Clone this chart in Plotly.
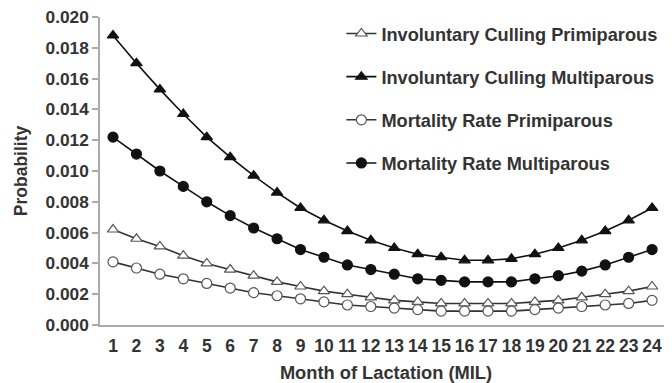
import plotly.graph_objects as go

months = list(range(1, 25))
icp = [0.0062, 0.0056, 0.0051, 0.0045, 0.0040, 0.0036, 0.0032, 0.0028, 0.0025, 0.0022, 0.0020, 0.0018,
       0.0016, 0.0015, 0.0014, 0.0014, 0.0014, 0.0014, 0.0015, 0.0016, 0.0018, 0.0020, 0.0022, 0.0025]
icm = [0.0188, 0.0170, 0.0153, 0.0137, 0.0122, 0.0109, 0.0097, 0.0086, 0.0076, 0.0068, 0.0061, 0.0055,
       0.0050, 0.0046, 0.0044, 0.0042, 0.0042, 0.0043, 0.0046, 0.0050, 0.0055, 0.0061, 0.0068, 0.0076]
mrp = [0.0041, 0.0037, 0.0033, 0.0030, 0.0027, 0.0024, 0.0021, 0.0019, 0.0017, 0.0015, 0.0013, 0.0012,
       0.0011, 0.0010, 0.0009, 0.0009, 0.0009, 0.0009, 0.0010, 0.0011, 0.0012, 0.0013, 0.0014, 0.0016]
mrm = [0.0122, 0.0111, 0.0100, 0.0090, 0.0080, 0.0071, 0.0063, 0.0056, 0.0049, 0.0044, 0.0039, 0.0036,
       0.0033, 0.0030, 0.0029, 0.0028, 0.0028, 0.0028, 0.0030, 0.0032, 0.0035, 0.0039, 0.0044, 0.0049]
y_ticks = [0.000, 0.002, 0.004, 0.006, 0.008, 0.010, 0.012, 0.014, 0.016, 0.018, 0.020]

series = [
    ("Involuntary Culling Primiparous", icp, "triangle-up", "white", "#555555"),
    ("Involuntary Culling Multiparous", icm, "triangle-up", "#111111", "#111111"),
    ("Mortality Rate Primiparous", mrp, "circle", "white", "#555555"),
    ("Mortality Rate Multiparous", mrm, "circle", "#111111", "#111111"),
]

fig = go.Figure()
for i, (name, vals, sym, fill, edge) in enumerate(series):
    fig.add_trace(go.Scatter(
        x=months, y=vals, name=name, mode="lines+markers",
        legendgroup=f"g{i}",
        line=dict(color="#333333" if fill == "white" else "#111111", width=1.6),
        marker=dict(symbol=sym, size=10, color=fill,
                    line=dict(color=edge, width=1.2)),
    ))

font_fam = "Liberation Sans, Arial, sans-serif"
fig.update_layout(
    width=664, height=375,
    margin=dict(l=92, r=0, t=9, b=58),
    paper_bgcolor="white", plot_bgcolor="white",
    font=dict(family=font_fam, color="#333333", size=17, weight="bold"),
    showlegend=True,
    legend=dict(x=0.422, y=1.006, xanchor="left", yanchor="top",
                traceorder="grouped", tracegroupgap=16.5,
                font=dict(size=18.2, color="#333333", weight="bold"),
                bgcolor="rgba(0,0,0,0)"),
    xaxis=dict(range=[0.445, 24.85], tickmode="array", tickvals=months,
               ticktext=[str(m) for m in months], showgrid=False, zeroline=False,
               showline=True, linecolor="#aaaaaa", linewidth=1.5, ticks="",
               ticklabeloverflow="allow", ticklabelstandoff=4,
               tickfont=dict(size=17.5, weight="bold"),
               title=dict(text="Month of Lactation (MIL)", font=dict(size=18.3, weight="bold"), standoff=11)),
    yaxis=dict(range=[0, 0.020], tickmode="array", tickvals=y_ticks,
               ticktext=[f"{v:.3f}" for v in y_ticks], showgrid=False, zeroline=False,
               showline=True, linecolor="#aaaaaa", linewidth=1.5, ticks="outside",
               ticklen=6, tickcolor="#aaaaaa", tickwidth=1.5,
               ticklabeloverflow="allow",
               tickfont=dict(size=17.3, weight="bold"),
               title=dict(text="Probability", font=dict(size=17.5, weight="bold"), standoff=13)),
)

fig.write_html("out.html")
